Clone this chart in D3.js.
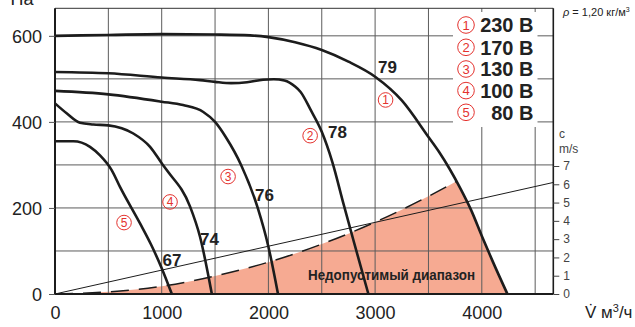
<!DOCTYPE html>
<html>
<head>
<meta charset="utf-8">
<script src="https://cdn.jsdelivr.net/npm/d3@7"></script>
<style>
  body { margin: 0; background: #fff; }
  svg { display: block; }
</style>
</head>
<body>
<svg id="chart" width="635" height="327"></svg>
<script>
// Fan characteristic: static pressure (Па) against air flow (м³/ч) at five supply voltages
const voltages = ["230 В", "170 В", "130 В", "100 В", "80 В"];
const markers = ["1", "2", "3", "4", "5"];
const soundLevels = ["79", "78", "76", "74", "67"];

const curve230 = [[0,600],[500,602],[1000,604],[1500,603],[1828,601],[2000,597],[2250,585],[2500,567],[2750,540],[3000,505],[3250,450],[3500,365],[3600,330],[3700,290],[3800,245],[3900,195],[4000,135],[4100,77],[4240,0]];
const curve170 = [[0,516],[500,513],[1000,503],[1359,497],[1500,493],[1650,490],[1800,492],[1950,498],[2050,499],[2150,496],[2250,482],[2300,470],[2400,426],[2500,377],[2600,306],[2700,213],[2800,122],[2937,0]];
const curve130 = [[0,472],[500,464],[1000,447],[1200,439],[1390,423],[1500,400],[1600,365],[1744,300],[1900,200],[2000,110],[2090,0]];
const curve100 = [[0,443],[109,420],[234,398],[359,394],[500,392],[734,373],[891,342],[1000,304],[1047,288],[1266,203],[1359,133],[1470,0]];
const curve80 = [[0,355],[172,355],[328,342],[422,322],[531,288],[609,249],[797,164],[900,115],[1000,60],[1095,0]];
const curves = [curve230, curve170, curve130, curve100, curve80];

// system line bounding the forbidden zone, and the outlet velocity line
const systemLine = [[0,0],[500,5],[1000,18],[1500,42],[2000,74],[2500,116],[3000,167],[3500,227],[4000,296],[4500,375],[4670,403]];
const velocityLine = [[0,0],[4670,6.1]];

const flowTicks = [0, 1000, 2000, 3000, 4000];
const pressureTicks = [0, 200, 400, 600];
const velocityTicks = [0, 1, 2, 3, 4, 5, 6, 7];
const flowGrid = [500, 1000, 1500, 2000, 2500, 3000, 3500, 4000, 4500];
const pressureGrid = [100, 200, 300, 400, 500, 600];

// label anchors in data units
const soundLabelAt = [[3028,514],[2559,362],[1875,216],[1359,114],[1008,64]];
const markerAt = [[3098,451],[2391,368],[1622,273],[1078,214],[647,166]];

const svg = d3.select("#chart");
const x = d3.scaleLinear().domain([0, 4670]).range([55, 553.3]);
const y = d3.scaleLinear().domain([0, 664]).range([294, 8.3]);
const v = d3.scaleLinear().domain([0, 7]).range([294, 166]);
const [x0, x1] = x.range();
const [yb, yt] = y.range();

const red = "#e4322e";
const ink = "#1c1c1c";

const line = d3.line().x(d => x(d[0])).y(d => y(d[1])).curve(d3.curveMonotoneX);
const area = d3.area().x(d => x(d[0])).y0(y(0)).y1(d => y(d[1])).curve(d3.curveMonotoneX);

// clip: everything under the 230 V curve
svg.append("defs").append("clipPath").attr("id", "under230")
  .append("path").attr("d", area(curve230));

// forbidden operating zone
svg.append("path")
  .attr("d", area(systemLine))
  .attr("clip-path", "url(#under230)")
  .attr("fill", "#f6aa92");

// grid
const grid = svg.append("g").attr("stroke", "#5c5c5c").attr("stroke-width", 1);
grid.selectAll(".gx").data(flowGrid).join("line")
  .attr("x1", d => x(d)).attr("x2", d => x(d)).attr("y1", yt).attr("y2", yb);
grid.selectAll(".gy").data(pressureGrid).join("line")
  .attr("x1", x0).attr("x2", x1).attr("y1", d => y(d)).attr("y2", d => y(d));
grid.append("line").attr("x1", x0).attr("x2", x1).attr("y1", yt).attr("y2", yt).attr("stroke", "#333");

// velocity line
svg.append("path")
  .attr("d", d3.line().x(d => x(d[0])).y(d => v(d[1]))(velocityLine))
  .attr("fill", "none").attr("stroke", ink).attr("stroke-width", 1);

// dashed system line
svg.append("path")
  .attr("d", line(systemLine))
  .attr("clip-path", "url(#under230)")
  .attr("fill", "none").attr("stroke", ink).attr("stroke-width", 1.5)
  .attr("stroke-dasharray", "18,10");

// fan curves
svg.selectAll(".curve").data(curves).join("path")
  .attr("d", d => line(d))
  .attr("fill", "none").attr("stroke", ink).attr("stroke-width", 2.6)
  .attr("stroke-linejoin", "round");

// axes
const leftAxis = svg.append("g").attr("transform", `translate(${x0},0)`)
  .call(d3.axisLeft(y).tickValues(pressureTicks).tickSize(6).tickPadding(7).tickFormat(d3.format("d")));
leftAxis.select(".domain").attr("d", `M0,${yt}V${yb}`).attr("stroke", ink).attr("stroke-width", 2);
leftAxis.selectAll(".tick line").attr("stroke", "#555");
leftAxis.selectAll(".tick text").attr("font-family", "Liberation Sans, Arial, sans-serif").attr("font-size", 18).attr("fill", "#222").attr("dy", "0.36em");

const bottomAxis = svg.append("g").attr("transform", `translate(0,${yb})`)
  .call(d3.axisBottom(x).tickValues(flowTicks).tickSize(0).tickPadding(12).tickFormat(d3.format("d")));
bottomAxis.select(".domain").attr("d", `M${x0},0H${x1}`).attr("stroke", ink).attr("stroke-width", 2);
bottomAxis.selectAll(".tick text").attr("font-family", "Liberation Sans, Arial, sans-serif").attr("font-size", 18).attr("fill", "#222");

const rightAxis = svg.append("g").attr("transform", `translate(${x1},0)`)
  .call(d3.axisRight(v).tickValues(velocityTicks).tickSize(6).tickPadding(4).tickFormat(d3.format("d")));
rightAxis.select(".domain").attr("d", `M0,${yt}V${yb}`).attr("stroke", ink).attr("stroke-width", 1.6);
rightAxis.selectAll(".tick line").attr("stroke", "#444");
rightAxis.selectAll(".tick text").attr("font-family", "Liberation Sans, Arial, sans-serif").attr("font-size", 12).attr("fill", "#444");

// axis titles
const txt = (s, xx, yy, size, opts = {}) => svg.append("text").text(s)
  .attr("x", xx).attr("y", yy)
  .attr("font-family", "Liberation Sans, Arial, sans-serif")
  .attr("font-size", size)
  .attr("font-weight", opts.weight || "normal")
  .attr("fill", opts.fill || "#222")
  .attr("text-anchor", opts.anchor || "start");

txt("Па", 10.5, 5, 18);
txt("c", 559, 138, 12, {fill: "#444"});
txt("m/s", 559, 153, 12, {fill: "#444"});
const flowTitle = txt("", 585, 318, 17);
flowTitle.append("tspan").text("V\u0307 м");
flowTitle.append("tspan").text("3").attr("font-size", 11).attr("dy", -6);
flowTitle.append("tspan").text("/ч").attr("dy", 6);
const rho = txt("", 563, 16, 11);
rho.append("tspan").text("ρ").attr("font-style", "italic");
rho.append("tspan").text(" = 1,20 кг/м");
rho.append("tspan").text("3").attr("font-size", 7).attr("dy", -4);

// forbidden zone caption
txt("Недопустимый диапазон", 308, 280, 15.5, {weight: "bold"})
  .attr("textLength", 167).attr("lengthAdjust", "spacingAndGlyphs");

// sound level labels
soundLevels.forEach((s, i) => {
  txt(s, x(soundLabelAt[i][0]), y(soundLabelAt[i][1]), 17, {weight: "bold"});
});

// circled curve markers
function circled(g, cx, cy, r, label, size) {
  g.append("circle").attr("cx", cx).attr("cy", cy).attr("r", r)
    .attr("fill", "none").attr("stroke", red).attr("stroke-width", 1);
  g.append("text").text(label).attr("x", cx).attr("y", cy).attr("dy", "0.36em")
    .attr("text-anchor", "middle").attr("font-family", "Liberation Sans, Arial, sans-serif")
    .attr("font-size", size).attr("fill", red);
}
const mk = svg.append("g");
markers.forEach((m, i) => circled(mk, x(markerAt[i][0]), y(markerAt[i][1]), 7.3, m, 12));

// legend
const lg = svg.append("g");
lg.append("rect").attr("x", 453).attr("y", 12).attr("width", 84.5).attr("height", 115).attr("fill", "#fff");
const rowY = [25, 47.3, 69, 90.6, 112.3];
voltages.forEach((s, i) => {
  circled(lg, 466, rowY[i], 8.3, markers[i], 13);
  lg.append("text").text(s).attr("x", 533.5).attr("y", rowY[i] + 7.2)
    .attr("text-anchor", "end").attr("font-family", "Liberation Sans, Arial, sans-serif")
    .attr("font-size", 20).attr("font-weight", "bold").attr("fill", "#222");
});
</script>
</body>
</html>
